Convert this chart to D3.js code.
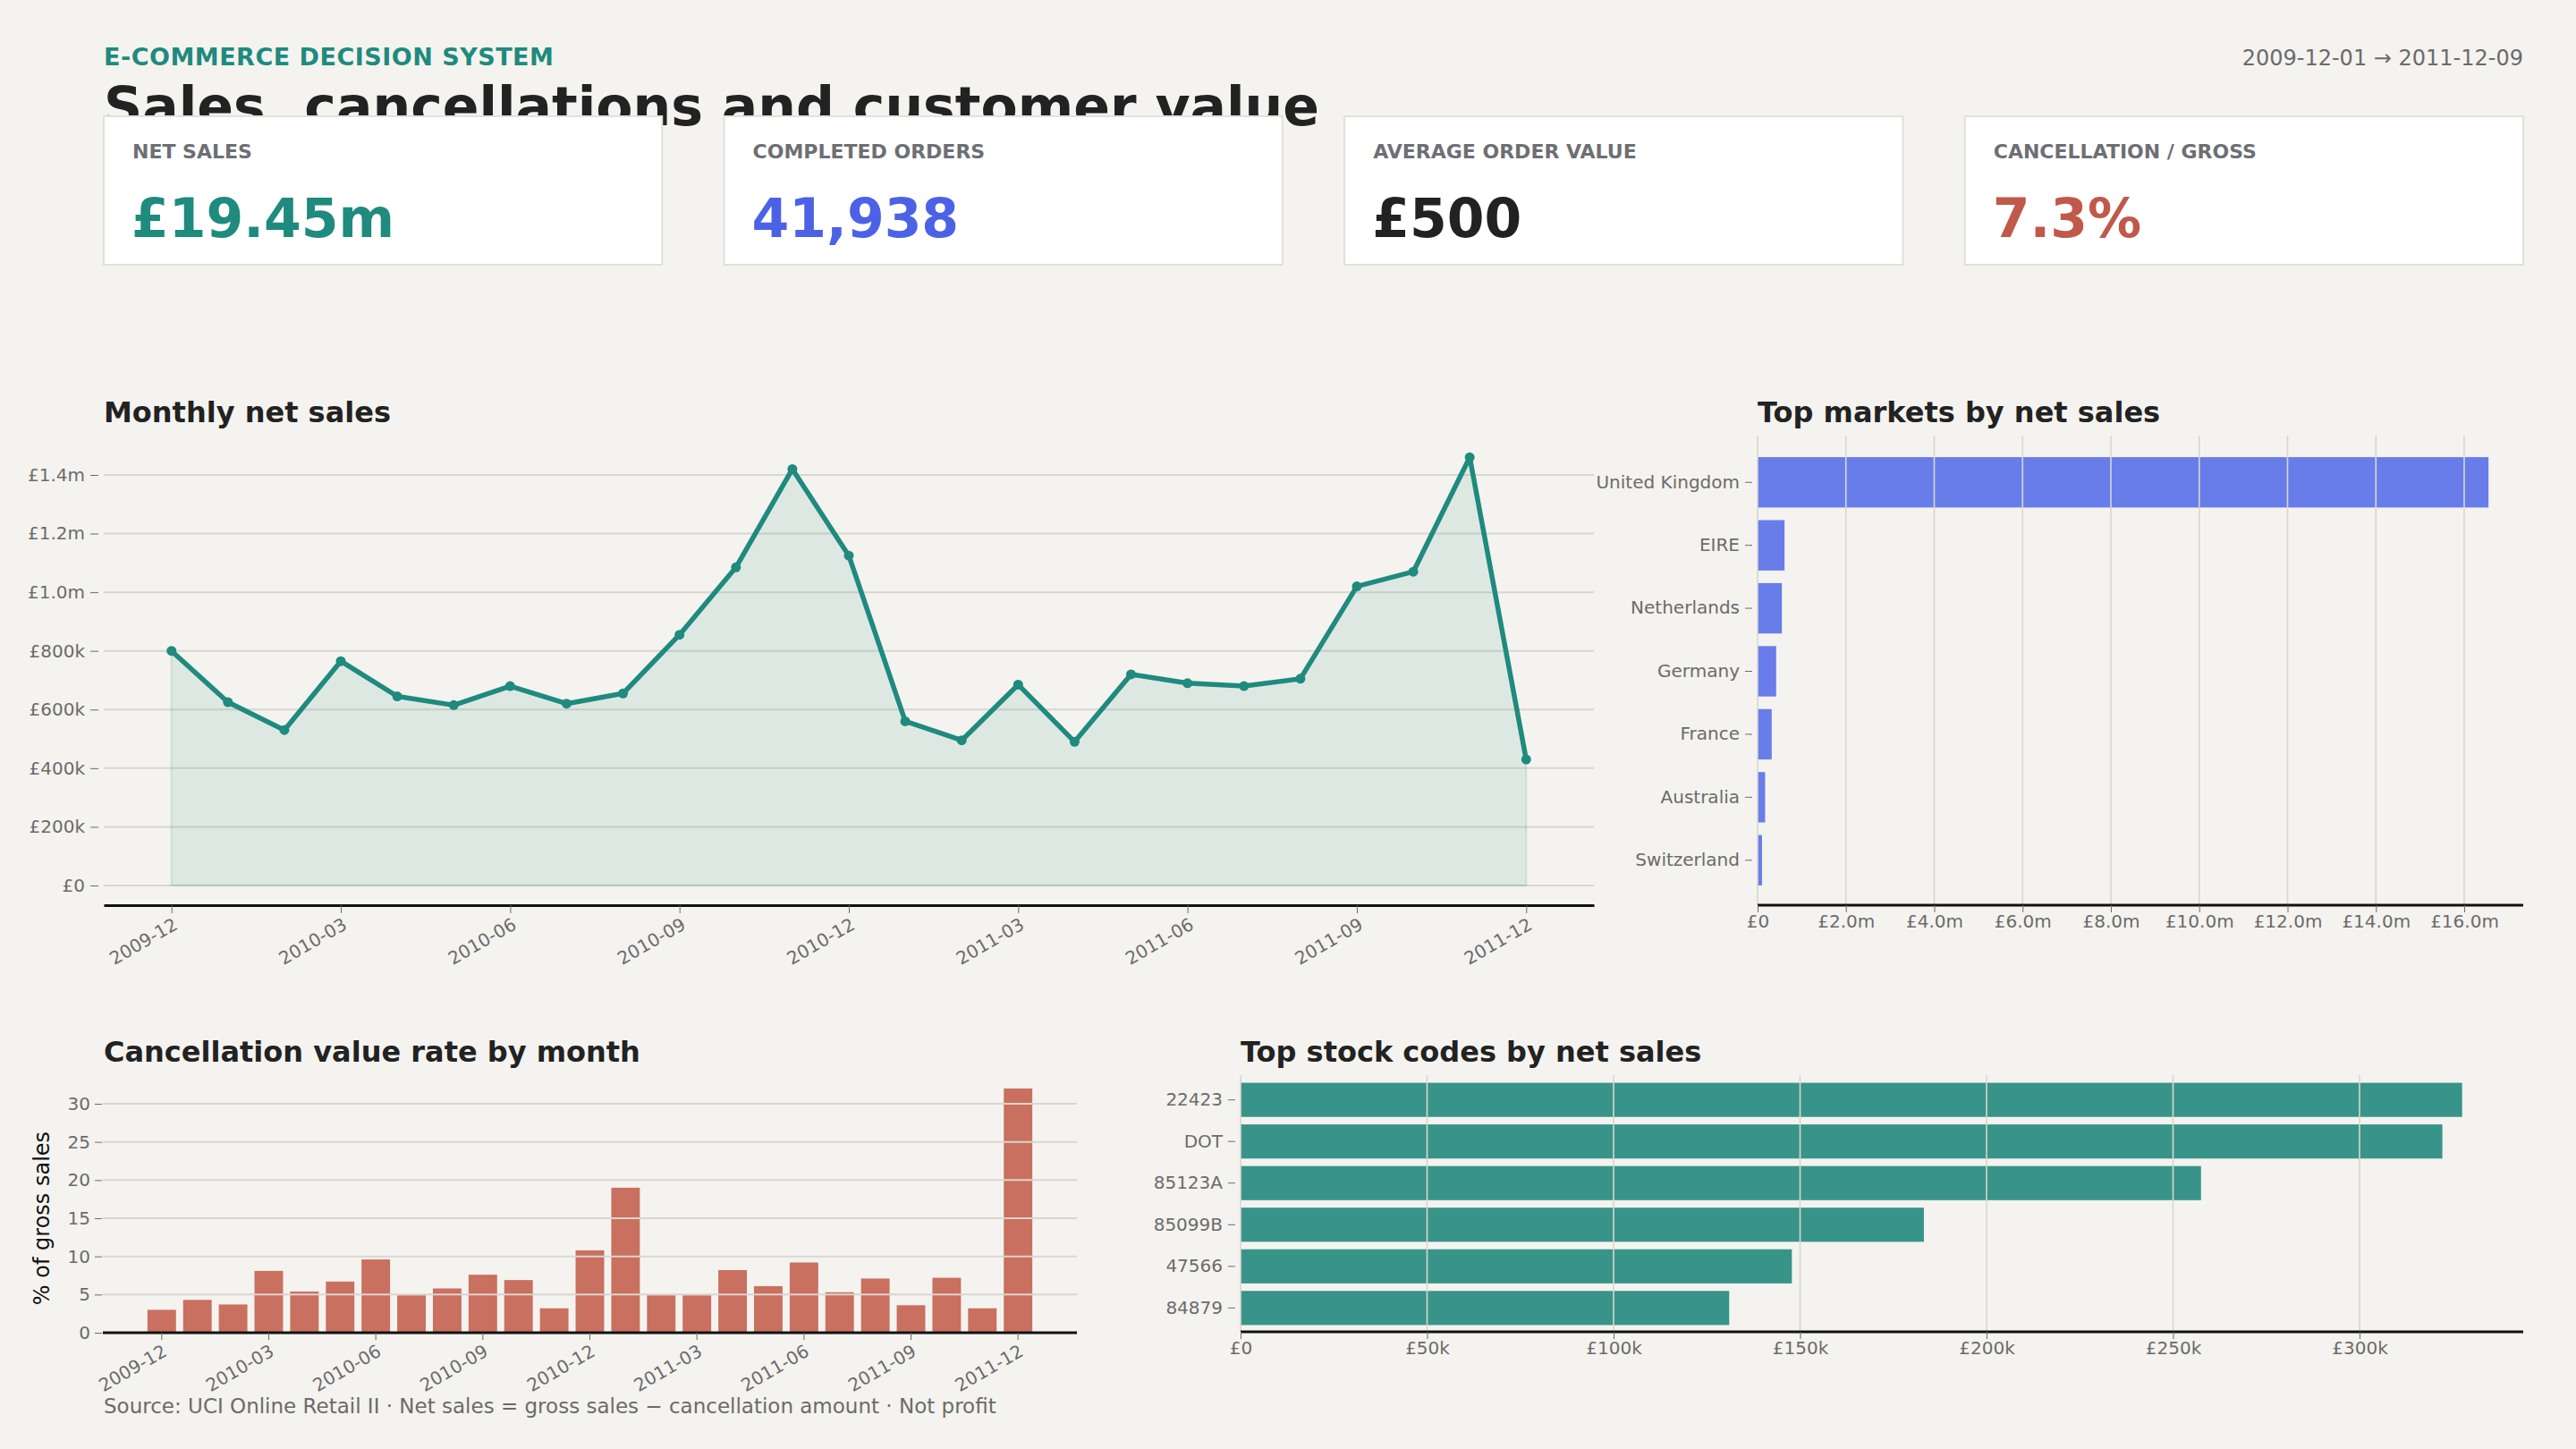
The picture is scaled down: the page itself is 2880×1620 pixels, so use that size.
<!DOCTYPE html>
<html><head><meta charset="utf-8">
<script src="https://cdn.jsdelivr.net/npm/d3@7"></script>
<style>
html,body{margin:0;padding:0;background:#f4f3ef;}
svg{display:block;font-family:"DejaVu Sans",sans-serif;}
</style></head><body>
<svg id="c" width="2880" height="1620"></svg>
<script>
const months = ["2009-12","2010-01","2010-02","2010-03","2010-04","2010-05","2010-06","2010-07","2010-08","2010-09","2010-10","2010-11","2010-12","2011-01","2011-02","2011-03","2011-04","2011-05","2011-06","2011-07","2011-08","2011-09","2011-10","2011-11","2011-12"];
const netSales = [800000,625000,530000,765000,645000,615000,680000,620000,655000,855000,1085000,1420000,1125000,560000,495000,685000,490000,720000,690000,680000,705000,1020000,1070000,1460000,430000];
const cancelRate = [3.0,4.3,3.7,8.1,5.4,6.7,9.6,4.9,5.8,7.6,6.9,3.2,10.8,19.0,4.9,4.9,8.2,6.1,9.2,5.3,7.1,3.6,7.2,3.2,32.0];
const monthTicks = ["2009-12","2010-03","2010-06","2010-09","2010-12","2011-03","2011-06","2011-09","2011-12"];
const countries = ["United Kingdom","EIRE","Netherlands","Germany","France","Australia","Switzerland"];
const countrySales = [16550000,610000,550000,420000,320000,170000,100000];
const stockCodes = ["22423","DOT","85123A","85099B","47566","84879"];
const stockSales = [327500,322200,257500,183200,147800,131000];
const kpiLabels = ["NET SALES","COMPLETED ORDERS","AVERAGE ORDER VALUE","CANCELLATION / GROSS"];
const kpiValues = ["£19.45m","41,938","£500","7.3%"];
const kpiColors = ["#1f8a7e","#4c62e6","#222222","#c0594a"];

const svg = d3.select("#c");
const GRID = "#d9d6cf", TXT = "#6b6b6b";

// header
svg.append("text").attr("x",116).attr("y",73).attr("font-size",27).attr("font-weight","bold").attr("fill","#1f8a7e").attr("letter-spacing",0.5).text("E-COMMERCE DECISION SYSTEM");
svg.append("text").attr("x",116).attr("y",140).attr("font-size",60).attr("font-weight","bold").attr("fill","#222").text("Sales, cancellations and customer value");
svg.append("text").attr("x",2821).attr("y",73).attr("text-anchor","end").attr("font-size",24).attr("fill",TXT).text("2009-12-01  →  2011-12-09");

// KPI cards
const cardX = d3.scaleBand().domain(d3.range(4)).range([116,2821]).paddingInner(0.1);
kpiLabels.forEach((l,i)=>{
  const g = svg.append("g").attr("transform",`translate(${cardX(i)},130)`);
  g.append("rect").attr("width",cardX.bandwidth()).attr("height",166).attr("fill","#fff").attr("stroke","#e2e0da").attr("stroke-width",2);
  g.append("text").attr("x",32).attr("y",47).attr("font-size",22).attr("font-weight","bold").attr("fill","#6d6f73").text(l);
  g.append("text").attr("x",31).attr("y",135).attr("font-size",60).attr("font-weight","bold").attr("fill",kpiColors[i]).text(kpiValues[i]);
});

function title(x,y,t){svg.append("text").attr("x",x).attr("y",y).attr("font-size",32).attr("font-weight","bold").attr("fill","#222").text(t);}
function styleAxis(g){g.selectAll("text").attr("fill",TXT).attr("font-size",20).attr("font-family","DejaVu Sans");g.selectAll(".tick line").attr("stroke",TXT);}
const fmtMoney = v => v===0?"£0":(v>=1e6?"£"+(v/1e6).toFixed(1)+"m":"£"+Math.round(v/1000)+"k");

// Monthly net sales
title(116,472,"Monthly net sales");
const lx = d3.scalePoint().domain(months).range([116,1782]).padding(1.2);
const ly = d3.scaleLinear().domain([0,1400000]).range([990,531]);
const lg = svg.append("g");
lg.selectAll("line.g").data(ly.ticks(7)).join("line").attr("x1",116).attr("x2",1782).attr("y1",d=>ly(d)).attr("y2",d=>ly(d)).attr("stroke",GRID).attr("stroke-width",2);
lg.append("path").datum(netSales).attr("fill","#1f8a7e").attr("fill-opacity",0.1).attr("stroke","#1f8a7e").attr("stroke-opacity",0.15).attr("stroke-width",2)
  .attr("d",d3.area().x((d,i)=>lx(months[i])).y0(ly(0)).y1(d=>ly(d)));
lg.append("path").datum(netSales).attr("fill","none").attr("stroke","#1f8a7e").attr("stroke-width",5.5).attr("stroke-linejoin","round")
  .attr("d",d3.line().x((d,i)=>lx(months[i])).y(d=>ly(d)));
lg.selectAll("circle").data(netSales).join("circle").attr("cx",(d,i)=>lx(months[i])).attr("cy",d=>ly(d)).attr("r",5.5).attr("fill","#1f8a7e");
const lya = svg.append("g").attr("transform","translate(110,0)").call(d3.axisLeft(ly).ticks(7).tickFormat(fmtMoney).tickSize(9).tickPadding(6));
lya.select(".domain").remove(); styleAxis(lya);
const lxa = svg.append("g").attr("transform","translate(0,1012)").call(d3.axisBottom(lx).tickValues(monthTicks).tickSize(9).tickSizeOuter(0));
lxa.select(".domain").attr("stroke","#111").attr("stroke-width",3); styleAxis(lxa);
lxa.selectAll("text").attr("text-anchor","end").attr("transform","rotate(-30)").attr("dx","-6").attr("dy","14");

// Top markets
title(1965,472,"Top markets by net sales");
const mx = d3.scaleLinear().domain([0,16000000]).range([1965,2755]);
const my = d3.scaleBand().domain(countries).range([497,1004]).paddingInner(0.2).paddingOuter(0.2);
svg.append("g").selectAll("rect").data(countrySales).join("rect").attr("x",mx(0)).attr("y",(d,i)=>my(countries[i])).attr("width",d=>mx(d)-mx(0)).attr("height",my.bandwidth()).attr("fill","#687de9");
svg.append("g").selectAll("line").data(d3.range(0,16000001,2000000)).join("line").attr("x1",d=>mx(d)).attr("x2",d=>mx(d)).attr("y1",487).attr("y2",1012).attr("stroke",GRID).attr("stroke-width",1.6);
const mya = svg.append("g").attr("transform","translate(1959,0)").call(d3.axisLeft(my).tickSize(8).tickPadding(6));
mya.select(".domain").remove(); styleAxis(mya);
const mxa = svg.append("g").attr("transform","translate(0,1012)").call(d3.axisBottom(mx).tickValues(d3.range(0,16000001,2000000)).tickFormat(fmtMoney).tickSize(8).tickSizeOuter(0));
mxa.select(".domain").attr("d","M1965,0H2821").attr("stroke","#111").attr("stroke-width",3); styleAxis(mxa);

// Cancellation rate
title(116,1187,"Cancellation value rate by month");
const cx = d3.scaleBand().domain(months).range([115,1204]).paddingInner(0.2).paddingOuter(1.25);
const cy = d3.scaleLinear().domain([0,30]).range([1490,1234]);
svg.append("g").selectAll("rect").data(cancelRate).join("rect").attr("x",(d,i)=>cx(months[i])).attr("y",d=>cy(d)).attr("width",cx.bandwidth()).attr("height",d=>cy(0)-cy(d)).attr("fill","#c97060");
svg.append("g").selectAll("line").data(d3.range(5,31,5)).join("line").attr("x1",115).attr("x2",1204).attr("y1",d=>cy(d)).attr("y2",d=>cy(d)).attr("stroke",GRID).attr("stroke-width",2);
const cya = svg.append("g").attr("transform","translate(114,0)").call(d3.axisLeft(cy).tickValues(d3.range(0,31,5)).tickSize(8).tickPadding(5));
cya.select(".domain").remove(); styleAxis(cya);
const cxa = svg.append("g").attr("transform","translate(0,1490)").call(d3.axisBottom(cx).tickValues(monthTicks).tickSize(8).tickSizeOuter(0));
cxa.select(".domain").attr("d","M115,0H1204").attr("stroke","#111").attr("stroke-width",3); styleAxis(cxa);
cxa.selectAll("text").attr("text-anchor","end").attr("transform","rotate(-30)").attr("dx","-6").attr("dy","14");
svg.append("text").attr("transform","translate(55,1362) rotate(-90)").attr("text-anchor","middle").attr("font-size",24).attr("fill","#111").text("% of gross sales");

// Stock codes
title(1387,1187,"Top stock codes by net sales");
const sx = d3.scaleLinear().domain([0,300000]).range([1387,2638]);
const sy = d3.scaleBand().domain(stockCodes).range([1205,1487]).paddingInner(0.18).paddingOuter(0.12);
svg.append("g").selectAll("rect").data(stockSales).join("rect").attr("x",sx(0)).attr("y",(d,i)=>sy(stockCodes[i])).attr("width",d=>sx(d)-sx(0)).attr("height",sy.bandwidth()).attr("fill","#389489");
svg.append("g").selectAll("line").data(d3.range(0,300001,50000)).join("line").attr("x1",d=>sx(d)).attr("x2",d=>sx(d)).attr("y1",1202).attr("y2",1489).attr("stroke",GRID).attr("stroke-width",1.6);
const sya = svg.append("g").attr("transform","translate(1381,0)").call(d3.axisLeft(sy).tickSize(8).tickPadding(6));
sya.select(".domain").remove(); styleAxis(sya);
const sxa = svg.append("g").attr("transform","translate(0,1489)").call(d3.axisBottom(sx).tickValues(d3.range(0,300001,50000)).tickFormat(fmtMoney).tickSize(8).tickSizeOuter(0));
sxa.select(".domain").attr("d","M1387,0H2821").attr("stroke","#111").attr("stroke-width",3); styleAxis(sxa);

svg.append("text").attr("x",116).attr("y",1580).attr("font-size",23).attr("fill",TXT).text("Source: UCI Online Retail II · Net sales = gross sales − cancellation amount · Not profit");
</script></body></html>
